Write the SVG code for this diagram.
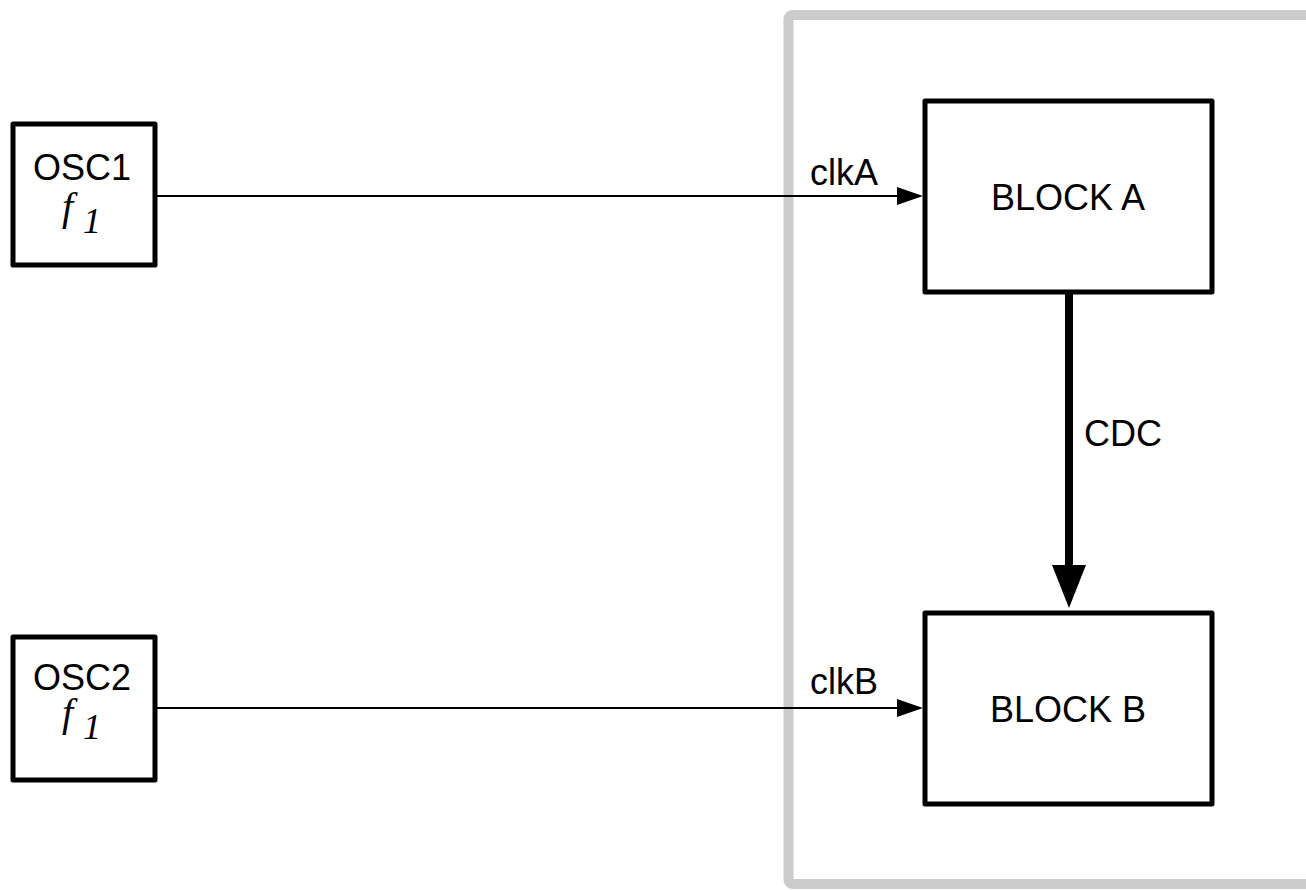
<svg xmlns="http://www.w3.org/2000/svg" width="1306" height="890" viewBox="0 0 1306 890">
  <style>
    .box { fill: #ffffff; stroke: #000000; stroke-width: 5; stroke-linejoin: round; }
    .label { font-family: "Liberation Sans", Arial, Helvetica, sans-serif; font-size: 36px; fill: #000000; }
    .math { font-family: "Liberation Serif", "Times New Roman", serif; font-style: italic; fill: #000000; }
    .wire { stroke: #000000; stroke-width: 2; fill: none; }
    .bus { stroke: #000000; stroke-width: 8; fill: none; }
    .head { fill: #000000; }
  </style>

  <rect width="1306" height="890" fill="#ffffff"/>

  <!-- chip boundary -->
  <rect id="chip" x="788.5" y="15" width="560" height="869" rx="4" fill="none" stroke="#cccccc" stroke-width="10"/>

  <g id="connectors">
    <!-- clkA -->
    <line class="wire" x1="157" y1="196" x2="899" y2="196"/>
    <polygon class="head" points="897,187 923,196 897,205"/>
    <text class="label" x="810" y="185">clkA</text>
    <!-- clkB -->
    <line class="wire" x1="157" y1="708" x2="899" y2="708"/>
    <polygon class="head" points="897,699 923,708 897,717"/>
    <text class="label" x="810" y="694">clkB</text>
    <!-- CDC -->
    <line class="bus" x1="1069" y1="291" x2="1069" y2="567"/>
    <polygon class="head" points="1052,565 1086,565 1069,608"/>
    <text class="label" x="1084" y="446">CDC</text>
  </g>

  <g id="osc1">
    <rect class="box" x="13" y="124" width="142" height="141"/>
    <text class="label" x="82" y="180" text-anchor="middle">OSC1</text>
    <text class="math" x="62" y="220" font-size="40">f</text>
    <text class="math" x="83" y="233" font-size="36">1</text>
  </g>

  <g id="osc2">
    <rect class="box" x="13" y="637" width="142" height="143"/>
    <text class="label" x="82" y="690" text-anchor="middle">OSC2</text>
    <text class="math" x="62" y="726" font-size="40">f</text>
    <text class="math" x="83" y="739" font-size="36">1</text>
  </g>

  <g id="block-a">
    <rect class="box" x="925" y="101" width="287" height="191"/>
    <text class="label" x="1068" y="210" text-anchor="middle">BLOCK A</text>
  </g>

  <g id="block-b">
    <rect class="box" x="925" y="613" width="287" height="191"/>
    <text class="label" x="1068" y="722" text-anchor="middle">BLOCK B</text>
  </g>
</svg>
